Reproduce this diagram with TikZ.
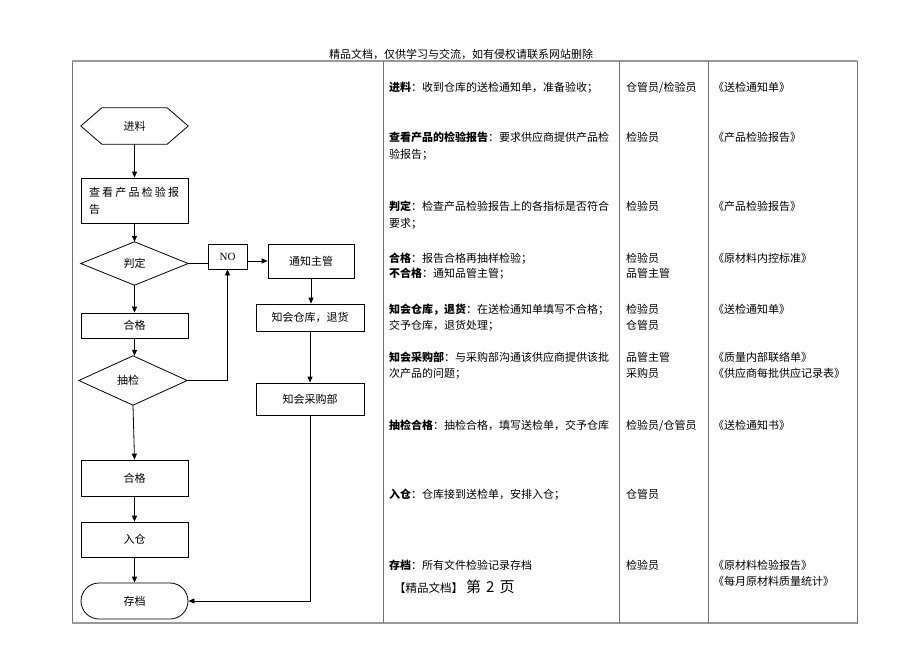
\documentclass[tikz,border=0pt]{standalone}
\usepackage{fontspec}
\setmainfont{Noto Sans CJK SC}
\newfontfamily\lat{Liberation Serif}
\newfontfamily\cjkw[LetterSpace=20]{Noto Sans CJK SC}
\usetikzlibrary{arrows.meta}
\begin{document}
\begin{tikzpicture}[x=1pt,y=-1pt,
  fc/.style={minimum width=107pt,inner sep=0pt,font=\fontsize{11}{17}\selectfont},
  box/.style={fc,draw,line width=0.8pt},
  shapeonly/.style={fc},
  arr/.style={line width=0.8pt,-{Triangle[length=6pt,width=5pt]}},
  ln/.style={line width=0.8pt},
  tbl/.style={draw=black!55,line width=0.9pt},
  txt/.style={anchor=base west,inner sep=0pt,font=\fontsize{11}{13}\selectfont},
]
\useasboundingbox (0,0) rectangle (920,651);
% header
\node[inner sep=0pt,font=\fontsize{11}{13}\selectfont] (hdr) at (461,54) {精品文档，仅供学习与交流，如有侵权请联系网站删除};
% table
\draw[tbl] (72,61) rectangle (857,623);
\draw[draw=black!40,line width=1.6pt] (72,61) -- (857,61);
\draw[draw=black!40,line width=1.6pt] (72,623) -- (857,623);
\draw[tbl] (383,61) -- (383,623);
\draw[tbl] (619,61) -- (619,623);
\draw[tbl] (708,61) -- (708,623);

% flowchart nodes
\node[shapeonly,minimum height=36pt] (jl) at (134.5,126) {进料};
\draw[ln] (jl.west) -- ([xshift=21pt]jl.north west) -- ([xshift=-21pt]jl.north east) -- (jl.east) -- ([xshift=-21pt]jl.south east) -- ([xshift=21pt]jl.south west) -- cycle;
\node[box,minimum height=45pt,text width=91pt,align=left] (ck) at (134.5,200.5) {\cjkw 查看产品检验报\\告};
\node[shapeonly,minimum height=43pt] (pd) at (134.5,263.5) {判定};
\draw[ln] (pd.west) -- (pd.north) -- (pd.east) -- (pd.south) -- cycle;
\node[box,minimum width=39pt,minimum height=25pt] (no) at (227.5,256.5) {\lat NO};
\node[box,minimum width=86pt,minimum height=34pt] (tz) at (311,261) {通知主管};
\node[box,minimum width=108pt,minimum height=27pt] (zhck) at (310,317.5) {知会仓库，退货};
\node[box,minimum width=108pt,minimum height=32pt] (cg) at (310,399) {知会采购部};
\node[box,minimum height=25pt] (hg1) at (134.5,325.5) {合格};
\node[shapeonly,minimum width=108pt,minimum height=49pt] (cj) at (133,380.5) {抽检\hspace*{10pt}};
\draw[ln] (cj.west) -- (cj.north) -- (cj.east) -- (cj.south) -- cycle;
\node[box,minimum height=36pt] (hg2) at (134.5,478) {合格};
\node[box,minimum height=35pt] (rc) at (134.5,539.5) {入仓};
\node[box,minimum height=36pt,rounded corners=18pt] (cd) at (134.5,601) {存档};

% connectors
\draw[arr] (jl.south) -- (ck.north);
\draw[arr] (ck.south) -- (pd.north);
\draw[arr] (pd.south) -- (hg1.north);
\draw[arr] (hg1.south) -- (hg1.south |- cj.north);
\draw[arr] (cj.south) -- (hg2.north);
\draw[arr] (hg2.south) -- (rc.north);
\draw[arr] (rc.south) -- (cd.north);
\draw[ln] (pd.east) -- (pd.east -| no.west);
\draw[arr] (cj.east) -- (cj.east -| no.south) -- (no.south);
\draw[arr] (tz.west -| no.east) -- (tz.west);
\draw[arr] (tz.south) -- (tz.south |- zhck.north);
\draw[arr] (zhck.south) -- (zhck.south |- cg.north);
\draw[arr] (cg.south) -- (cg.south |- cd.east) -- (cd.east);

% description column
\node[txt] (d1) at (389,91) {\textbf{进料}：收到仓库的送检通知单，准备验收；};
\node[txt] (d2a) at (389,141) {\textbf{查看产品的检验报告}：要求供应商提供产品检};
\node[txt] (d2b) at (389,158) {验报告；};
\node[txt] (d3a) at (389,210) {\textbf{判定}：检查产品检验报告上的各指标是否符合};
\node[txt] (d3b) at (389,227) {要求；};
\node[txt] (d4a) at (389,262) {\textbf{合格}：报告合格再抽样检验；};
\node[txt] (d4b) at (389,277) {\textbf{不合格}：通知品管主管；};
\node[txt] (d5a) at (389,313) {\textbf{知会仓库，退货}：在送检通知单填写不合格；};
\node[txt] (d5b) at (389,329) {交予仓库，退货处理；};
\node[txt] (d6a) at (389,361) {\textbf{知会采购部}：与采购部沟通该供应商提供该批};
\node[txt] (d6b) at (389,377) {次产品的问题；};
\node[txt] (d7) at (389,429) {\textbf{抽检合格}：抽检合格，填写送检单，交予仓库};
\node[txt] (d8) at (389,498) {\textbf{入仓}：仓库接到送检单，安排入仓；};
\node[txt] (d9) at (389,569) {\textbf{存档}：所有文件检验记录存档};
\node[txt] (foot) at (394,592) {{\fontsize{11.5}{13}\selectfont 【精品文档】}\hspace{3pt}{\fontsize{15}{17}\selectfont 第\hspace{5pt}2\hspace{5pt}页}};

% role column
\node[txt] (r1) at (626,91) {仓管员/检验员};
\node[txt] (r2) at (626,141) {检验员};
\node[txt] (r3) at (626,210) {检验员};
\node[txt] (r4a) at (626,262) {检验员};
\node[txt] (r4b) at (626,277) {品管主管};
\node[txt] (r5a) at (626,313) {检验员};
\node[txt] (r5b) at (626,329) {仓管员};
\node[txt] (r6a) at (626,361) {品管主管};
\node[txt] (r6b) at (626,377) {采购员};
\node[txt] (r7) at (626,429) {检验员/仓管员};
\node[txt] (r8) at (626,498) {仓管员};
\node[txt] (r9) at (626,569) {检验员};

% document column
\node[txt] (f1) at (713,91) {《送检通知单》};
\node[txt] (f2) at (713,141) {《产品检验报告》};
\node[txt] (f3) at (713,210) {《产品检验报告》};
\node[txt] (f4) at (713,262) {《原材料内控标准》};
\node[txt] (f5) at (713,313) {《送检通知单》};
\node[txt] (f6a) at (713,361) {《质量内部联络单》};
\node[txt] (f6b) at (713,377) {《供应商每批供应记录表》};
\node[txt] (f7) at (713,429) {《送检通知书》};
\node[txt] (f9a) at (713,569) {《原材料检验报告》};
\node[txt] (f9b) at (713,585) {《每月原材料质量统计》};
\end{tikzpicture}
\end{document}
